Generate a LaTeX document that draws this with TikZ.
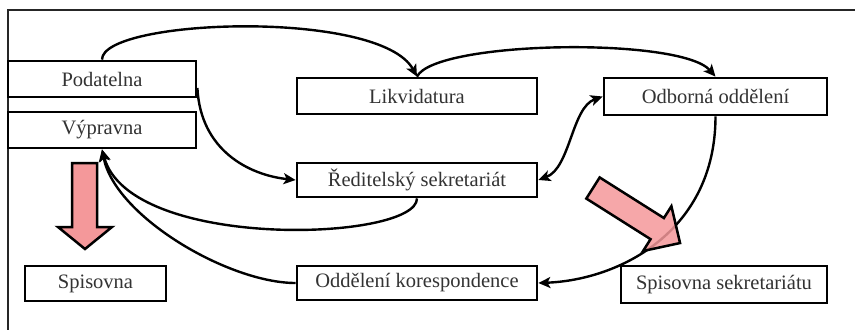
\documentclass[tikz,border=0pt]{standalone}
\usepackage{fontspec}
\setmainfont{Liberation Serif}
\usetikzlibrary{arrows.meta}
\definecolor{arrowpink}{HTML}{F4989A}
\begin{document}
\begin{tikzpicture}[x=1pt,y=-1pt,
  box/.style={draw=black, line width=2.8pt, fill=white, inner sep=0pt,
    font=\fontsize{20.5}{24}\selectfont, text=black!80},
  conn/.style={line width=2.4pt, -{Stealth[length=12pt,width=11pt,inset=3pt]}},
  dconn/.style={line width=2.4pt, {Stealth[length=12pt,width=11pt,inset=3pt]}-{Stealth[length=12pt,width=11pt,inset=3pt]}},
  blockarrow/.style={draw=black, line width=2.5pt, fill=arrowpink, line join=miter},
  frameline/.style={draw=black!85, line width=2pt}]
\useasboundingbox (0,0) rectangle (855,330);
% frame
\coordinate (ftr) at (855,10);
\coordinate (ftl) at (8,10);
\coordinate (fbl) at (8,330);
\draw[frameline] (ftr) -- (ftl) -- (fbl);
% boxes
\node[box, minimum width=188pt, minimum height=36pt] (pod) at (102,79) {Podatelna};
\node[box, minimum width=188pt, minimum height=36pt] (vyp) at (102,130) {Výpravna};
\node[box, minimum width=240pt, minimum height=36pt] (lik) at (417,96) {Likvidatura};
\node[box, minimum width=223pt, minimum height=37pt] (odb) at (715.5,96.5) {Odborná oddělení};
\node[box, minimum width=240pt, minimum height=34pt] (red) at (417,180) {Ředitelský sekretariát};
\node[box, minimum width=141pt, minimum height=35pt] (spis) at (95.5,283.5) {Spisovna};
\node[box, minimum width=240pt, minimum height=34pt] (kor) at (417,283) {Oddělení korespondence};
\node[box, minimum width=206pt, minimum height=37pt] (spsek) at (724,284.5) {Spisovna sekretariátu};
% down block arrow
\draw[blockarrow] (72,163) -- (97,163) -- (97,227) -- (112,227) -- (85,249) -- (58,227) -- (72,227) -- cycle;
% connectors
\draw[conn] (pod.north) .. controls +(0,-41) and +(-37,-68) .. (lik.north);
\draw[conn] (lik.north) .. controls +(18,-36) and +(-35,-40) .. (odb.north);
\draw[conn] ([yshift=-9pt]pod.east) .. controls +(3,62) and +(-47,-5) .. (red.west);
\draw[dconn] (red.east) .. controls +(32,-12) and +(-31,11) .. (odb.west);
\draw[conn] (red.south) .. controls +(0,43) and +(28,102) .. (vyp.south);
\draw[conn] (kor.west) .. controls +(-67,0) and +(13,67) .. (vyp.south);
\draw[conn] (odb.south) .. controls +(0,115) and +(81,-3) .. (kor.east);
% diagonal block arrow
\begin{scope}[shift={(593,188)}, rotate=-32.3]
\draw[blockarrow, fill opacity=0.85] (0,-12.5) -- (76,-12.5) -- (76,-26.5) -- (103,0) -- (76,26.5) -- (76,12.5) -- (0,12.5) -- cycle;
\end{scope}
\end{tikzpicture}
\end{document}
